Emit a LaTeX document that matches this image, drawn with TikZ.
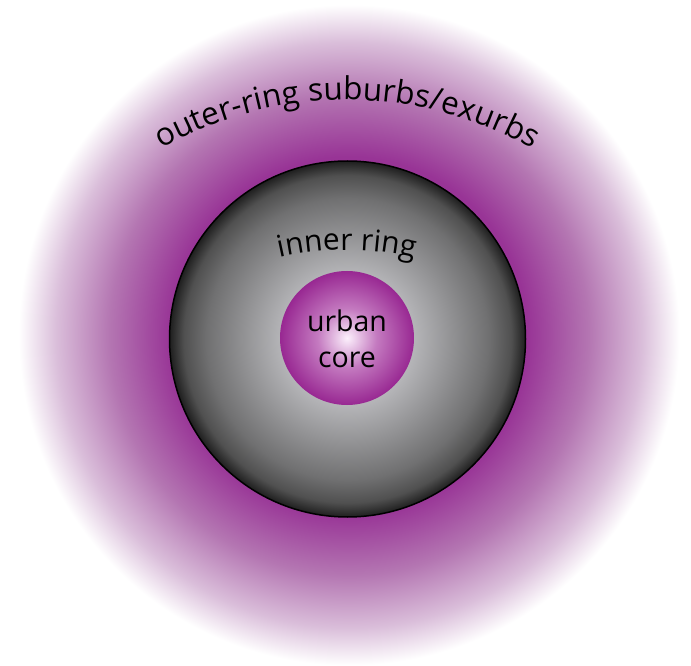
\documentclass[tikz,border=0pt]{standalone}
\usepackage{fontspec}
\newfontfamily\lblfont{Open Sans}
\usetikzlibrary{decorations.text}
\definecolor{opurple}{RGB}{152,52,150}
\definecolor{omid}{RGB}{180,118,178}
\definecolor{olight}{RGB}{218,190,218}
\definecolor{rgA}{RGB}{226,226,228}
\definecolor{rgB}{RGB}{180,180,183}
\definecolor{rgC}{RGB}{112,112,113}
\definecolor{rgD}{RGB}{80,80,80}
\definecolor{rgE}{RGB}{30,30,30}
\definecolor{cA}{RGB}{252,240,252}
\definecolor{cB}{RGB}{196,122,192}
\definecolor{cC}{RGB}{152,40,146}
\pgfdeclareradialshading{outershade}{\pgfpoint{0bp}{0bp}}{color(0bp)=(opurple); color(13.4bp)=(opurple); color(18bp)=(omid); color(22bp)=(olight); color(24.8bp)=(white); color(50bp)=(white)}
\pgfdeclareradialshading{ringshade}{\pgfpoint{0bp}{0bp}}{color(0bp)=(rgA); color(9.4bp)=(rgB); color(19.8bp)=(rgC); color(23bp)=(rgD); color(25bp)=(rgE); color(50bp)=(rgE)}
\pgfdeclareradialshading{coreshade}{\pgfpoint{0bp}{0bp}}{color(0bp)=(cA); color(11bp)=(cB); color(25bp)=(cC); color(50bp)=(cC)}
\tikzset{
  disc/.style={circle, inner sep=0pt, outer sep=0pt},
  arclabel/.style={decorate, decoration={text along path, text align=center, text color=black}}
}
\begin{document}
\begin{tikzpicture}[x=1pt,y=1pt]
\useasboundingbox (0,0) rectangle (691,665);
\node[disc, minimum size=666pt, shading=outershade] (outer) at (349,330) {};
\node[disc, minimum size=356pt, shading=ringshade, draw=black, line width=1.5pt] (ring) at (347.5,326) {};
\node[disc, minimum size=134pt, shading=coreshade] (core) at (347,327) {};
\node[font=\lblfont\fontsize{28.5}{36}\selectfont, align=center, inner sep=0pt] (corelbl) at (347,326) {urban\\core};
\coordinate (oc) at (347,187);
\path[arclabel, decoration={text={|\lblfont\fontsize{31.5}{36}\selectfont|outer-ring suburbs/exurbs}}]
  (oc) ++(150:378pt) arc[start angle=150, end angle=30, radius=378pt];
\coordinate (ic) at (347,110);
\path[arclabel, decoration={text={|\lblfont\fontsize{30}{36}\selectfont|inner ring}}]
  (ic) ++(120:305pt) arc[start angle=120, end angle=60, radius=305pt];
\end{tikzpicture}
\end{document}
